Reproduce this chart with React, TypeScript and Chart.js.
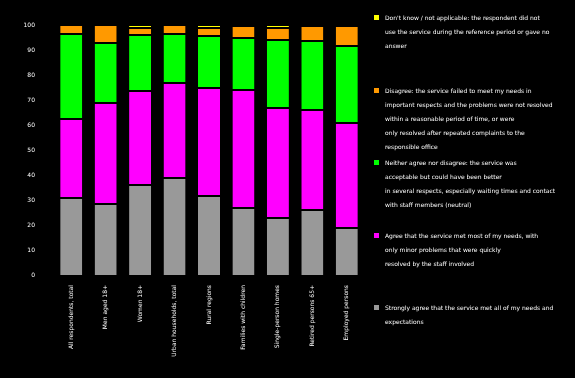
import React, { useEffect, useRef } from "react";
import { Chart, registerables } from "chart.js";

Chart.register(...registerables);

const categories = [
  "All respondents, total",
  "Men aged 18+",
  "Women 18+",
  "Urban households, total",
  "Rural regions",
  "Families with children",
  "Single-person homes",
  "Retired persons 65+",
  "Employed persons",
];

const tickValues = [0, 10, 20, 30, 40, 50, 60, 70, 80, 90, 100];

// bottom to top
const grayValues = [30.8, 28.4, 36.0, 38.8, 31.6, 26.8, 22.8, 26.0, 18.8];
const magentaValues = [31.6, 40.4, 37.6, 38.0, 43.2, 47.2, 44.0, 40.0, 42.0];
const greenValues = [34.0, 24.0, 22.4, 19.6, 20.8, 20.8, 27.2, 27.6, 30.8];
const orangeValues = [3.6, 7.2, 2.8, 3.6, 3.2, 4.8, 4.8, 6.0, 8.0];
const yellowValues = [null, null, 1.2, null, 1.2, null, 1.2, null, null];

const grayLabel = [
  "Strongly agree that the service met all of my needs and",
  "expectations",
];
const magentaLabel = [
  "Agree that the service met most of my needs, with",
  "only minor problems that were quickly",
  "resolved by the staff involved",
];
const greenLabel = [
  "Neither agree nor disagree: the service was",
  "acceptable but could have been better",
  "in several respects, especially waiting times and contact",
  "with staff members (neutral)",
];
const orangeLabel = [
  "Disagree: the service failed to meet my needs in",
  "important respects and the problems were not resolved",
  "within a reasonable period of time, or were",
  "only resolved after repeated complaints to the",
  "responsible office",
];
const yellowLabel = [
  "Don't know / not applicable: the respondent did not",
  "use the service during the reference period or gave no",
  "answer",
];

const COLORS = {
  gray: "#999999",
  magenta: "#ff00ff",
  green: "#00ff00",
  orange: "#ff9900",
  yellow: "#ffff00",
};

const FONT = "'DejaVu Sans', sans-serif";

export default function App() {
  const ref = useRef<HTMLCanvasElement | null>(null);

  useEffect(() => {
    if (!ref.current) return;
    const mk = (label: string[], data: (number | null)[], color: string, first: boolean) => ({
      label: label.join(" "),
      data,
      backgroundColor: color,
      borderColor: "#000000",
      borderWidth: { top: 1, bottom: 1, left: 0, right: 0 },
      borderSkipped: first ? "start" : false,
      barPercentage: 0.8,
      categoryPercentage: 0.8,
    });
    const chart = new Chart(ref.current, {
      type: "bar",
      data: {
        labels: categories,
        datasets: [
          mk(grayLabel, grayValues, COLORS.gray, true),
          mk(magentaLabel, magentaValues, COLORS.magenta, false),
          mk(greenLabel, greenValues, COLORS.green, false),
          mk(orangeLabel, orangeValues, COLORS.orange, false),
          mk(yellowLabel, yellowValues, COLORS.yellow, false),
        ] as any,
      },
      options: {
        animation: false,
        responsive: false,
        maintainAspectRatio: false,
        layout: { padding: { top: 25, right: 211, bottom: 0, left: 0 } },
        plugins: { legend: { display: false }, tooltip: { enabled: false } },
        scales: {
          x: {
            stacked: true,
            grid: { display: false, drawTicks: false },
            border: { display: false },
            ticks: {
              color: "#ffffff",
              font: { family: FONT, size: 6 },
              minRotation: 90,
              maxRotation: 90,
              padding: 10,
              autoSkip: false,
            },
            afterFit: (s: any) => {
              s.height = 103;
            },
          },
          y: {
            stacked: true,
            min: 0,
            max: 100,
            afterBuildTicks: (s: any) => {
              s.ticks = tickValues.map((v) => ({ value: v }));
            },
            grid: { display: false, drawTicks: false },
            border: { display: false },
            ticks: {
              color: "#ffffff",
              font: { family: FONT, size: 6 },
              padding: 19,
            },
            afterFit: (s: any) => {
              s.width = 54;
            },
          },
        },
      } as any,
    });
    return () => chart.destroy();
  }, []);

  const legendItems = [
    { lines: yellowLabel, color: COLORS.yellow },
    { lines: orangeLabel, color: COLORS.orange },
    { lines: greenLabel, color: COLORS.green },
    { lines: magentaLabel, color: COLORS.magenta },
    { lines: grayLabel, color: COLORS.gray },
  ];

  return (
    <div
      style={{
        position: "fixed",
        left: 0,
        top: 0,
        width: 575,
        height: 378,
        background: "#000000",
        overflow: "hidden",
      }}
    >
      <canvas ref={ref} width={575} height={378} style={{ display: "block", width: 575, height: 378 }} />
      {legendItems.map((it, i) => (
        <div
          key={i}
          style={{
            position: "absolute",
            left: 374,
            top: 11 + i * 72.5,
            width: 200,
            display: "flex",
            alignItems: "flex-start",
          }}
        >
          <div
            style={{
              width: 5,
              height: 5,
              marginTop: 4,
              background: it.color,
              flex: "0 0 auto",
            }}
          />
          <div
            style={{
              marginLeft: 6,
              color: "#ffffff",
              fontFamily: FONT,
              fontSize: 6,
              lineHeight: "14px",
              whiteSpace: "nowrap",
            }}
          >
            {it.lines.map((l, j) => (
              <div key={j}>{l}</div>
            ))}
          </div>
        </div>
      ))}
    </div>
  );
}
